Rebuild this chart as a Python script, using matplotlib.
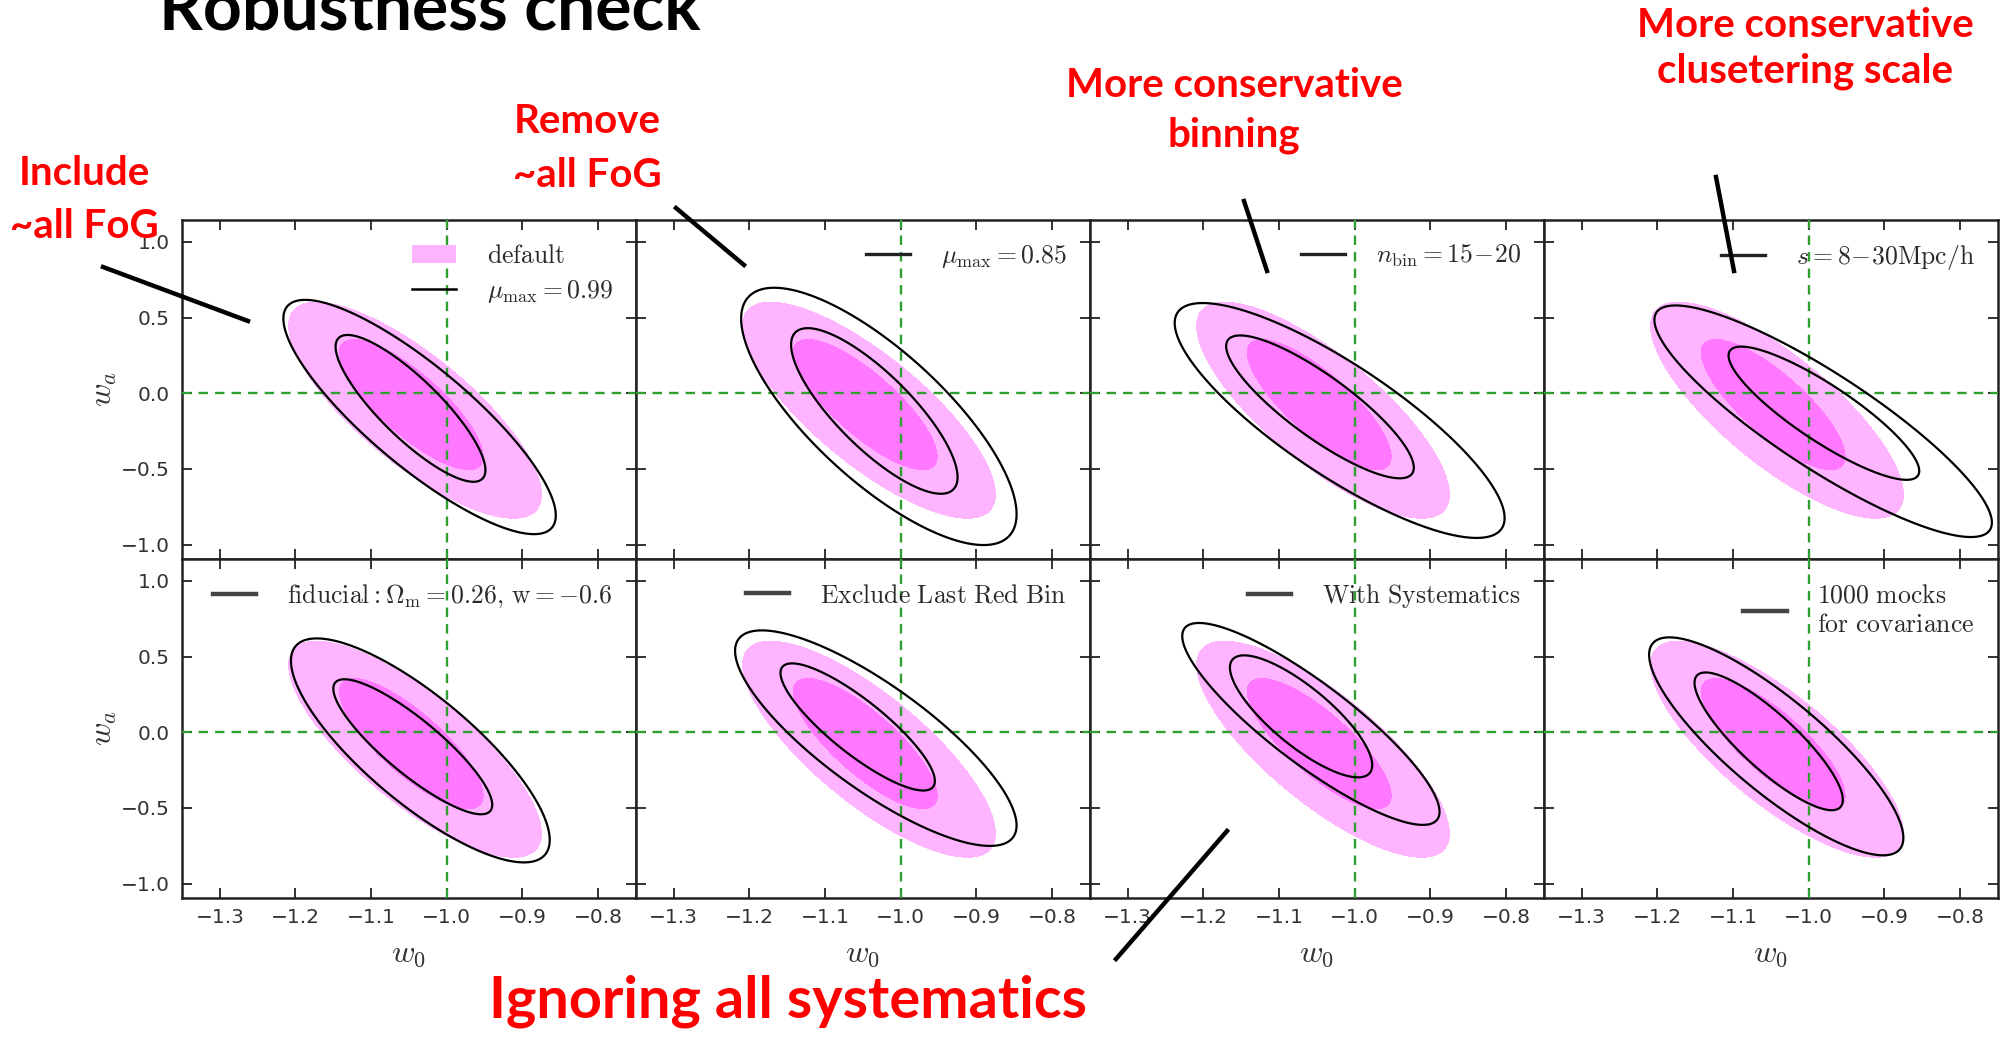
import numpy as np
import matplotlib.pyplot as plt
from matplotlib.lines import Line2D
from matplotlib.patches import Patch

plt.rcParams['mathtext.fontset'] = 'cm'

W, H = 2011, 1041

# axis ticks and fiducial cosmology
w0_ticks = [-1.3, -1.2, -1.1, -1.0, -0.9, -0.8]
wa_ticks = [-1.0, -0.5, 0.0, 0.5, 1.0]
w0_fid = -1.0
wa_fid = 0.0

# default result (filled), entries are [68%, 95%]
# center, half extent along w0 / wa, correlation
default_w0 = [-1.047, -1.042]
default_wa = [-0.075, -0.112]
default_hw0 = [0.095, 0.167]
default_hwa = [0.43, 0.714]
default_rho = [-0.80, -0.78]

labels = [
    r"$\mu_{\mathrm{max}}=0.99$",
    r"$\mu_{\mathrm{max}}=0.85$",
    r"$n_{\mathrm{bin}}=15\!-\!20$",
    r"$s=8\!-\!30\mathrm{Mpc/h}$",
    r"$\mathrm{fiducial}:\Omega_{\mathrm{m}}=0.26,\,\mathrm{w}=-0.6$",
    r"$\mathrm{Exclude\ Last\ Red\ Bin}$",
    r"$\mathrm{With\ Systematics}$",
    "$\\mathrm{1000\\ mocks}$\n$\\mathrm{for\\ covariance}$",
]

# robustness test contours (black lines), 68% level
in_w0 = [-1.048, -1.035, -1.046, -0.980, -1.045, -1.057, -1.071, -1.053]
in_wa = [-0.100, -0.117, -0.090, -0.132, -0.096, 0.035, 0.105, -0.060]
in_hw0 = [0.099, 0.110, 0.124, 0.126, 0.105, 0.102, 0.094, 0.098]
in_hwa = [0.485, 0.547, 0.472, 0.440, 0.446, 0.420, 0.403, 0.455]
in_rho = [-0.84, -0.80, -0.85, -0.866, -0.86, -0.85, -0.80, -0.85]

# 95% level
out_w0 = [-1.036, -1.029, -1.020, -0.981, -1.035, -1.033, -1.058, -1.043]
out_wa = [-0.157, -0.153, -0.180, -0.185, -0.120, -0.039, 0.055, -0.093]
out_hw0 = [0.180, 0.182, 0.218, 0.223, 0.171, 0.186, 0.170, 0.168]
out_hwa = [0.774, 0.850, 0.776, 0.765, 0.740, 0.712, 0.667, 0.720]
out_rho = [-0.84, -0.76, -0.83, -0.875, -0.80, -0.81, -0.87, -0.84]

x_lim = (-1.35, -0.75)
y_lim = (-1.095, 1.145)

light_pink = '#ffb4ff'
magenta = '#ff78ff'
dash_green = '#2f9f2f'

X, Y = np.meshgrid(np.linspace(*x_lim, 500), np.linspace(*y_lim, 500))


def ellipse_field(cx, cy, hx, hy, rho):
    """Quadratic form that equals 1 on the contour edge."""
    dx = (X - cx) / hx
    dy = (Y - cy) / hy
    return (dx**2 - 2 * rho * dx * dy + dy**2) / (1 - rho**2)


def px(x, y):
    """Pixel position on the slide -> figure fraction."""
    return x / W, 1 - y / H


fig = plt.figure(figsize=(W / 100, H / 100), dpi=100)
axes = fig.subplots(2, 4, sharex=True, sharey=True)
fig.subplots_adjust(left=0.0905, right=0.9935, top=0.7887, bottom=0.1374,
                    wspace=0, hspace=0)

for i, ax in enumerate(axes.flat):
    # default, filled
    z95 = ellipse_field(default_w0[1], default_wa[1], default_hw0[1], default_hwa[1], default_rho[1])
    z68 = ellipse_field(default_w0[0], default_wa[0], default_hw0[0], default_hwa[0], default_rho[0])
    ax.contourf(X, Y, z95, levels=[0, 1], colors=[light_pink])
    ax.contourf(X, Y, z68, levels=[0, 1], colors=[magenta])

    # fiducial lines
    ax.axvline(w0_fid, color=dash_green, ls=(0, (4, 3)), lw=1.7, zorder=3)
    ax.axhline(wa_fid, color=dash_green, ls=(0, (4, 3)), lw=1.7, zorder=3)

    # test case, black lines
    zo = ellipse_field(out_w0[i], out_wa[i], out_hw0[i], out_hwa[i], out_rho[i])
    zi = ellipse_field(in_w0[i], in_wa[i], in_hw0[i], in_hwa[i], in_rho[i])
    ax.contour(X, Y, zo, levels=[1], colors='k', linewidths=1.6, zorder=4)
    ax.contour(X, Y, zi, levels=[1], colors='k', linewidths=1.6, zorder=4)

    ax.set_xlim(*x_lim)
    ax.set_ylim(*y_lim)
    ax.set_xticks(w0_ticks)
    ax.set_yticks(wa_ticks)
    ax.tick_params(direction='in', top=True, right=True, length=7, width=1.3,
                   labelsize=14.5, labelcolor='#333333', color='#222222')
    ax.tick_params(axis='y', pad=9)
    ax.tick_params(axis='x', pad=7)
    for s in ax.spines.values():
        s.set_linewidth(1.8)
        s.set_color('#222222')

    top_row = i < 4
    if i == 0:
        handles = [Patch(facecolor=light_pink, edgecolor='none'),
                   Line2D([], [], color='k', lw=1.8)]
        names = [r"$\mathrm{default}$", labels[i]]
    else:
        handles = [Line2D([], [], color='#222222' if top_row else '#444444',
                          lw=2.4 if top_row else 3.2)]
        names = [labels[i]]
    leg = ax.legend(handles, names, loc='upper right', frameon=False,
                    fontsize=18.5, handlelength=1.7, handletextpad=1.2,
                    labelspacing=0.35, borderaxespad=0.5)
    for t in leg.get_texts():
        t.set_color('#2a2a2a')

    if not top_row:
        ax.set_xlabel(r"$w_0$", fontsize=23, color='#333333', labelpad=8)
    if i % 4 == 0:
        ax.set_ylabel(r"$w_a$", fontsize=23, color='#333333', labelpad=1)

# slide text; the title is cut by the top edge of the slide
red_font = dict(family='Lato', weight='bold', color='red', ha='center', va='baseline')
fig.text(*px(430, 30), "Robustness check", family='Lato', weight='bold',
         color='black', ha='center', va='baseline', fontsize=49)

fig.text(*px(84, 185), "Include", fontsize=29, **red_font)
fig.text(*px(84, 238), "~all FoG", fontsize=29, **red_font)
fig.text(*px(587, 133), "Remove", fontsize=29, **red_font)
fig.text(*px(587, 187), "~all FoG", fontsize=29, **red_font)
fig.text(*px(1234, 97), "More conservative", fontsize=29, **red_font)
fig.text(*px(1234, 146), "binning", fontsize=29, **red_font)
fig.text(*px(1805, 37), "More conservative", fontsize=29, **red_font)
fig.text(*px(1805, 83), "clusetering scale", fontsize=29, **red_font)
fig.text(*px(788, 1018), "Ignoring all systematics", fontsize=41.5, **red_font)

# pointer lines
pointers = [((103, 267), (248, 321)),
            ((676, 208), (744, 265)),
            ((1244, 201), (1267, 271)),
            ((1716, 177), (1734, 271)),
            ((1116, 959), (1227, 831))]
for (x0, y0), (x1, y1) in pointers:
    a = px(x0, y0)
    b = px(x1, y1)
    fig.add_artist(Line2D([a[0], b[0]], [a[1], b[1]], color='black', lw=3.2,
                          transform=fig.transFigure))

fig.savefig('out.png', dpi=100, facecolor='white')
